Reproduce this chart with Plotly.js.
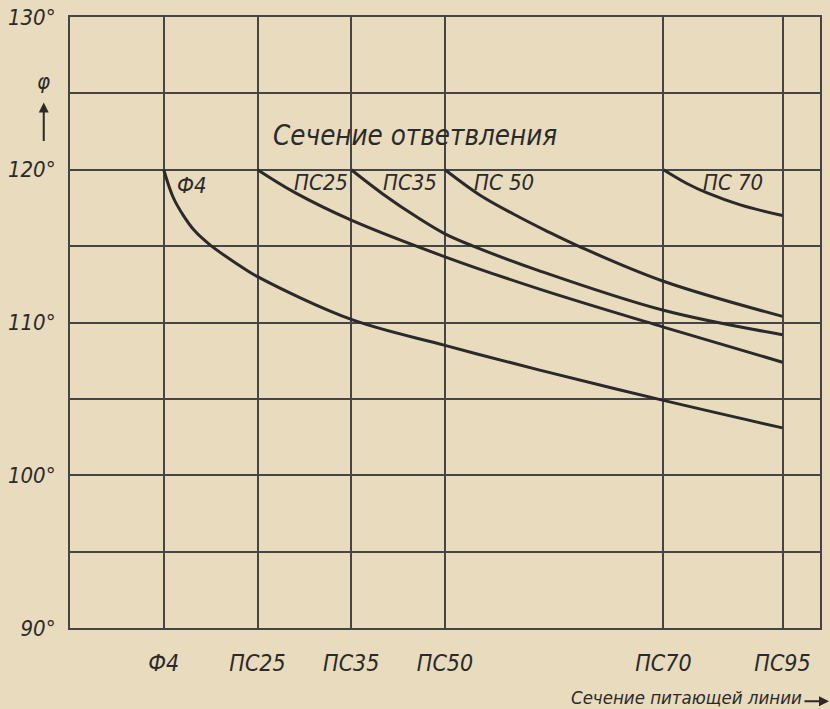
<!DOCTYPE html>
<html>
<head>
<meta charset="utf-8">
<script src="https://cdn.plot.ly/plotly-3.0.1.min.js"></script>
<style>
html,body{margin:0;padding:0;background:#e9dbbd;}
#chart{width:830px;height:709px;}
</style>
</head>
<body>
<div id="chart"></div>
<script>
// Feeding-line cross-sections (x-axis categories) and their positions on the axis
const categoryNames = ['Ф4', 'ПС25', 'ПС35', 'ПС50', 'ПС70', 'ПС95'];
const categoryPos = [1, 2, 3, 4, 6.33, 7.6];

// y-axis ticks (degrees)
const yTickVals = [90, 95, 100, 105, 110, 115, 120, 125, 130];
const yTickText = ['90°', '', '100°', '', '110°', '', '120°', '', '130°'];

// Branch cross-section curves: phi (degrees) vs feeding-line position
const f4X = [1.0, 1.10, 1.21, 1.33, 1.49, 1.79, 2.0, 3.0, 4.0, 5.0, 6.33, 7.6];
const f4Y = [120, 118.2, 117.0, 116.0, 115.1, 113.8, 113.0, 110.2, 108.5, 106.9, 104.9, 103.1];

const ps25X = [2.0, 2.4, 3.0, 4.0, 5.0, 6.33, 7.6];
const ps25Y = [120, 118.5, 116.7, 114.3, 112.2, 109.7, 107.4];

const ps35X = [3.0, 3.34, 3.7, 4.0, 4.3, 5.0, 6.33, 7.6];
const ps35Y = [120, 118.4, 116.9, 115.8, 115.0, 113.4, 110.8, 109.2];

const ps50X = [4.0, 4.37, 4.73, 5.08, 5.44, 6.33, 7.6];
const ps50Y = [120, 118.35, 117.1, 116.0, 114.95, 112.7, 110.4];

const ps70X = [6.33, 6.58, 6.79, 7.15, 7.6];
const ps70Y = [120, 119.1, 118.5, 117.7, 117.0];

// Curve labels
const curveLabels = ['Ф4', 'ПС25', 'ПС35', 'ПС 50', 'ПС 70'];
const curveLabelX = [1.30, 2.68, 3.63, 4.63, 7.07];
const curveLabelY = [119.0, 119.15, 119.15, 119.15, 119.15];

const ink = '#2a2a2a';
const gridInk = '#454545';
const fam = '"DejaVu Sans Condensed", "DejaVu Sans", sans-serif';

const series = [[f4X, f4Y], [ps25X, ps25Y], [ps35X, ps35Y], [ps50X, ps50Y], [ps70X, ps70Y]];
const traces = series.map(s => ({
  x: s[0], y: s[1], type: 'scatter', mode: 'lines',
  line: {color: ink, width: 3, shape: 'spline', smoothing: 1},
  hoverinfo: 'skip', showlegend: false
}));

const annotations = curveLabels.map((t, i) => ({
  x: curveLabelX[i], y: curveLabelY[i], xref: 'x', yref: 'y',
  text: t, showarrow: false,
  font: {family: fam, size: 22, color: ink, style: 'italic'}
}));

annotations.push({
  x: 3.68, y: 122.3, xref: 'x', yref: 'y', text: 'Сечение ответвления',
  showarrow: false, font: {family: fam, size: 27.5, color: ink, style: 'italic'}
});
// phi label with upward arrow
annotations.push({
  x: -0.035, y: 0.894, xref: 'paper', yref: 'paper', text: 'φ',
  xanchor: 'center', yanchor: 'middle',
  showarrow: false, font: {family: fam, size: 22, color: ink, style: 'italic'}
});
annotations.push({
  x: -0.035, y: 0.86, xref: 'paper', yref: 'paper', text: '',
  showarrow: true, ax: 0, ay: 40, arrowhead: 2, arrowsize: 1, arrowwidth: 2, arrowcolor: ink
});
// x-axis title with arrow
annotations.push({
  x: 0.979, y: -0.113, xref: 'paper', yref: 'paper', text: 'Сечение питающей линии',
  xanchor: 'right', yanchor: 'middle',
  showarrow: false, font: {family: fam, size: 18.5, color: ink, style: 'italic'}
});
annotations.push({
  x: 1.012, y: -0.12, xref: 'paper', yref: 'paper', text: '',
  showarrow: true, ax: -26, ay: 0, arrowhead: 2, arrowsize: 1, arrowwidth: 2, arrowcolor: ink
});

const layout = {
  width: 830, height: 709,
  margin: {l: 70, r: 10, t: 17, b: 81},
  paper_bgcolor: '#e9dbbd', plot_bgcolor: '#e9dbbd',
  showlegend: false,
  xaxis: {
    range: [0, 8], tickvals: categoryPos, ticktext: categoryNames,
    showgrid: true, gridcolor: gridInk, gridwidth: 2,
    zeroline: false, showline: true, mirror: true, linecolor: gridInk, linewidth: 2,
    ticks: 'outside', ticklen: 13, tickcolor: 'rgba(0,0,0,0)',
    tickfont: {family: fam, size: 23, color: ink, style: 'italic'},
    fixedrange: true
  },
  yaxis: {
    range: [90, 130], tickvals: yTickVals, ticktext: yTickText,
    showgrid: true, gridcolor: gridInk, gridwidth: 2,
    zeroline: false, showline: true, mirror: true, linecolor: gridInk, linewidth: 2,
    ticks: 'outside', ticklen: 8, tickcolor: 'rgba(0,0,0,0)',
    tickfont: {family: fam, size: 22, color: ink, style: 'italic'},
    fixedrange: true
  },
  annotations: annotations
};

Plotly.newPlot('chart', traces, layout, {displayModeBar: false});
</script>
</body>
</html>
